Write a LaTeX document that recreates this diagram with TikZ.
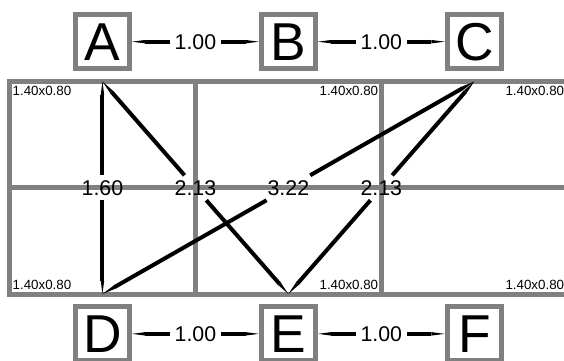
\documentclass[tikz,border=0pt]{standalone}
\usepackage{fontspec}
\setmainfont{Liberation Sans}
\usetikzlibrary{arrows.meta}
\tikzset{
	vbox/.style={draw=gray,line width=3.75pt,fill=white,minimum size=40.5pt,inner sep=0pt,font=\fontsize{40}{48}\selectfont},
	cell/.style={gray,line width=3.75pt},
	wt/.style={inner sep=3.5pt,font=\fontsize{16}{19}\selectfont},
	lnk/.style={line width=3pt,-{Triangle[length=10pt,width=2.6pt,line width=0pt]}},
	dim/.style={inner xsep=0.5pt,inner ysep=1.5pt,outer sep=1.875pt,font=\fontsize{10}{12}\selectfont},
}
\begin{document}
\begin{tikzpicture}[x=3.5cm,y=3.5cm]
	\useasboundingbox (-0.0715,-0.5045) rectangle (4.1755,2.2139);
	% grid of cells
	\draw[cell] (0,0) rectangle (4.2,1.6);
	\draw[cell] (0,0.8)--(4.2,0.8);
	\draw[cell] (1.4,0)--(1.4,1.6);
	\draw[cell] (2.8,0)--(2.8,1.6);
	\node[dim,anchor=north west] (c1) at (0,1.6){1.40x0.80};
	\node[dim,anchor=north east] (c2) at (2.8,1.6){1.40x0.80};
	\node[dim,anchor=north east] (c3) at (4.2,1.6){1.40x0.80};
	\node[dim,anchor=south west] (c4) at (0,0){1.40x0.80};
	\node[dim,anchor=south east] (c5) at (2.8,0){1.40x0.80};
	\node[dim,anchor=south east] (c6) at (4.2,0){1.40x0.80};
	% vertices
	\node[vbox] (A) at (0.7,1.9){A};
	\node[vbox] (B) at (2.1,1.9){B};
	\node[vbox] (C) at (3.5,1.9){C};
	\node[vbox] (D) at (0.7,-0.3){D};
	\node[vbox] (E) at (2.1,-0.3){E};
	\node[vbox] (F) at (3.5,-0.3){F};
	\coordinate (pA) at (0.7,1.6);
	\coordinate (pC) at (3.5,1.6);
	\coordinate (pD) at (0.7,0);
	\coordinate (pE) at (2.1,0);
	% weighted edges
	\node[wt] (ab) at (1.4,1.9){1.00};
	\draw[lnk] (ab)--(A);
	\draw[lnk] (ab)--(B);
	\node[wt] (bc) at (2.8,1.9){1.00};
	\draw[lnk] (bc)--(B);
	\draw[lnk] (bc)--(C);
	\node[wt] (de) at (1.4,-0.3){1.00};
	\draw[lnk] (de)--(D);
	\draw[lnk] (de)--(E);
	\node[wt] (ef) at (2.8,-0.3){1.00};
	\draw[lnk] (ef)--(E);
	\draw[lnk] (ef)--(F);
	\node[wt] (ad) at (0.7,0.8){1.60};
	\draw[lnk] (ad)--(pA);
	\draw[lnk] (ad)--(pD);
	\node[wt] (ae) at (1.4,0.8){2.13};
	\draw[lnk] (ae)--(pA);
	\draw[lnk] (ae)--(pE);
	\node[wt] (cd) at (2.1,0.8){3.22};
	\draw[lnk] (cd)--(pC);
	\draw[lnk] (cd)--(pD);
	\node[wt] (ce) at (2.8,0.8){2.13};
	\draw[lnk] (ce)--(pC);
	\draw[lnk] (ce)--(pE);
\end{tikzpicture}
\end{document}
